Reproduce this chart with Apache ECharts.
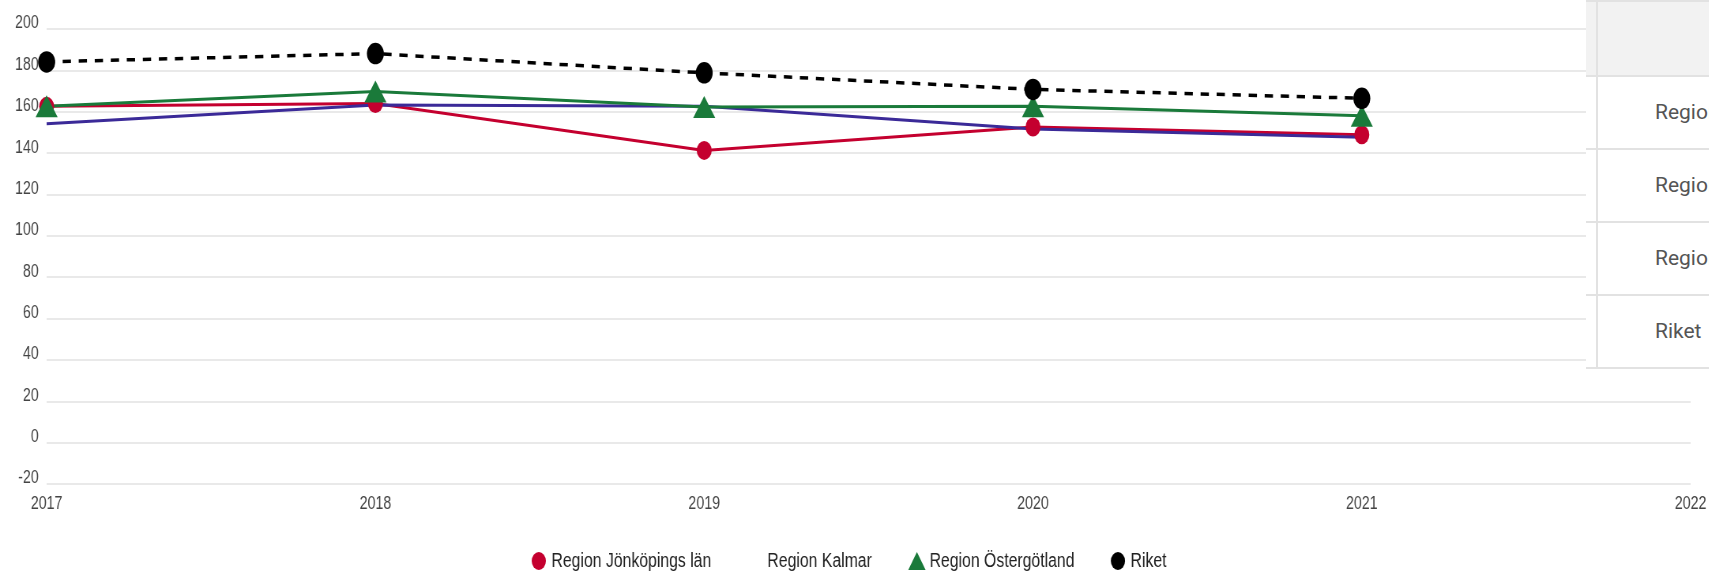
<!DOCTYPE html>
<html lang="sv">
<head>
<meta charset="UTF-8">
<title>Jämförelse regioner</title>
<style>
  html, body { margin: 0; padding: 0; background: #fff; overflow: hidden; width: 1709px; height: 572px; }
  /* chart is drawn wider and squeezed horizontally, like the original */
  #chart { position: absolute; left: 0; top: 0; width: 2163px; height: 572px; transform: scaleX(0.79); transform-origin: 0 0; }
  #tbl { position: absolute; left: 1586px; top: 0; width: 600px; background: #fff; border-top: 2px solid #e2e2e2; border-bottom: 2px solid #e2e2e2; }
  #tbl .tr { display: flex; height: 73px; box-sizing: border-box; border-top: 2px solid #e2e2e2; }
  #tbl .tr.head { border-top: none; background: #f2f2f2; }
  #tbl .c0 { width: 10px; border-right: 2px solid #e2e2e2; }
  #tbl .c1 { padding-left: 57px; line-height: 71px; font-family: Roboto, sans-serif; font-size: 21px; color: #555; white-space: nowrap; }
</style>
</head>
<body>
<div id="chart"></div>
<div id="tbl">
  <div class="tr head"><div class="c0"></div><div class="c1"></div></div>
  <div class="tr"><div class="c0"></div><div class="c1">Region Jönköpings län</div></div>
  <div class="tr"><div class="c0"></div><div class="c1">Region Kalmar</div></div>
  <div class="tr"><div class="c0"></div><div class="c1">Region Östergötland</div></div>
  <div class="tr"><div class="c0"></div><div class="c1">Riket</div></div>
</div>
<script src="https://cdn.jsdelivr.net/npm/echarts@6/dist/echarts.min.js"></script>
<script>
var years = [2017, 2018, 2019, 2020, 2021];
var jonkoping = [162.6, 164.0, 141.3, 152.6, 148.9];
var kalmar = [154.2, 163.2, 162.6, 151.6, 147.6];
var ostergotland = [162.6, 169.8, 162.3, 162.6, 158.1];
var riket = [184.1, 188.1, 178.8, 170.8, 166.5];
var xTicks = [2017, 2018, 2019, 2020, 2021, 2022];
var yTicks = [-20, 0, 20, 40, 60, 80, 100, 120, 140, 160, 180, 200];

function pairs(vals) {
  return years.map(function (y, i) { return [y, vals[i]]; });
}

var labelFont = "'Liberation Sans', Arial, sans-serif";

var chart = echarts.init(document.getElementById('chart'));
var option = {
  animation: false,
  grid: { left: 59, right: 21, top: 29, bottom: 88 },
  legend: {
    left: 668,
    top: 546,
    itemWidth: 22,
    itemHeight: 18,
    itemGap: 46,
    textStyle: { fontFamily: labelFont, fontSize: 20, color: '#222' },
    data: [
      { name: 'Region Jönköpings län', icon: 'circle' },
      { name: 'Region Kalmar', icon: 'circle', itemStyle: { opacity: 0 } },
      { name: 'Region Östergötland', icon: 'triangle' },
      { name: 'Riket', icon: 'circle' }
    ]
  },
  xAxis: {
    type: 'value',
    min: xTicks[0],
    max: xTicks[xTicks.length - 1],
    interval: 1,
    axisLine: { show: false },
    axisTick: { show: false },
    splitLine: { show: false },
    axisLabel: {
      fontFamily: labelFont, fontSize: 18, color: '#444', margin: 11,
      formatter: function (v) { return String(v); }
    }
  },
  yAxis: {
    type: 'value',
    min: yTicks[0],
    max: yTicks[yTicks.length - 1],
    interval: 20,
    axisLine: { show: false },
    axisTick: { show: false },
    splitLine: { lineStyle: { color: '#e2e2e2', width: 1.5 } },
    axisLabel: {
      fontFamily: labelFont, fontSize: 18, color: '#444', margin: 10,
      verticalAlign: 'bottom', lineHeight: 11
    }
  },
  series: [
    {
      name: 'Region Jönköpings län',
      type: 'line',
      data: pairs(jonkoping),
      symbol: 'circle',
      symbolSize: 19,
      itemStyle: { color: '#c4002f' },
      lineStyle: { color: '#c4002f', width: 3 }
    },
    {
      name: 'Region Kalmar',
      type: 'line',
      data: pairs(kalmar),
      symbol: 'none',
      itemStyle: { color: '#3b2a98' },
      lineStyle: { color: '#3b2a98', width: 3 }
    },
    {
      name: 'Region Östergötland',
      type: 'line',
      data: pairs(ostergotland),
      symbol: 'triangle',
      symbolSize: [28, 22],
      itemStyle: { color: '#1a7a3a' },
      lineStyle: { color: '#1a7a3a', width: 3 }
    },
    {
      name: 'Riket',
      type: 'line',
      data: pairs(riket),
      symbol: 'circle',
      symbolSize: 21.5,
      itemStyle: { color: '#000' },
      lineStyle: { color: '#000', width: 3.5, type: [10.5, 9.8] }
    }
  ]
};
chart.setOption(option);
</script>
</body>
</html>
